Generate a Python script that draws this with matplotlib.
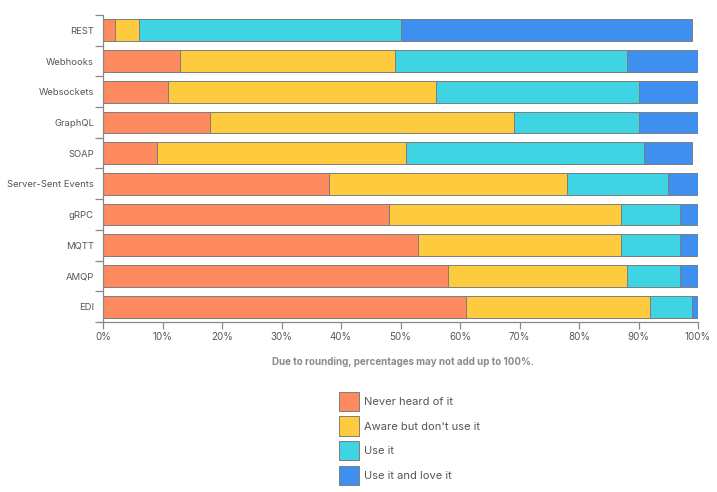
import matplotlib
matplotlib.use("Agg")
from matplotlib import pyplot as plt
from matplotlib.patches import Patch
import numpy as np

plt.rcParams['font.family'] = ['Inter', 'DejaVu Sans']

# данные опроса (в процентах)
apis = ['REST', 'Webhooks', 'Websockets', 'GraphQL', 'SOAP',
        'Server-Sent Events', 'gRPC', 'MQTT', 'AMQP', 'EDI']
never_heard = [2, 13, 11, 18, 9, 38, 48, 53, 58, 61]
aware = [4, 36, 45, 51, 42, 40, 39, 34, 30, 31]
use_it = [44, 39, 34, 21, 40, 17, 10, 10, 9, 7]
love_it = [49, 12, 10, 10, 8, 5, 3, 3, 3, 1]

labels = ['Never heard of it', "Aware but don't use it", 'Use it', 'Use it and love it']
colors = ['#fe8a5f', '#fecb3e', '#3fd4e4', '#3f8ff0']

fig = plt.figure(figsize=(7.17, 4.92), dpi=100)
ax = fig.add_axes([103 / 717, 1 - 322 / 492, 595 / 717, 307 / 492])

y = np.arange(len(apis))
left = np.zeros(len(apis))
for vals, col in zip([never_heard, aware, use_it, love_it], colors):
    ax.barh(y, vals, left=left, height=0.71, color=col,
            edgecolor='#7d7d7d', linewidth=0.7)
    left += np.array(vals)

ax.set_xlim(0, 100)
ax.set_ylim(len(apis) - 0.5, -0.5)

# деления по границам категорий, подписи по центрам
ax.set_yticks(np.arange(len(apis) + 1) - 0.5)
ax.set_yticklabels([])
ax.set_yticks(y, minor=True)
ax.set_yticklabels(apis, minor=True)
ax.tick_params(axis='y', which='minor', length=0, pad=6.5, labelsize=6.8, labelcolor='#555555')
ax.tick_params(axis='y', which='major', length=6, color='#888888', width=0.9)

ax.set_xticks(range(0, 101, 10))
ax.set_xticklabels([f'{v}%' for v in range(0, 101, 10)])
ax.tick_params(axis='x', length=5, color='#888888', width=0.9, labelsize=7,
               labelcolor='#555555', pad=2)

for s in ['top', 'right']:
    ax.spines[s].set_visible(False)
for s in ['left', 'bottom']:
    ax.spines[s].set_color('#888888')
    ax.spines[s].set_linewidth(0.9)

fig.text(403 / 717, 1 - 362 / 492, 'Due to rounding, percentages may not add up to 100%.',
         ha='center', va='center', fontsize=7, fontweight='bold', color='#8a8a8a')

handles = [Patch(facecolor=c, edgecolor='#7d7d7d', linewidth=0.7) for c in colors]
leg = fig.legend(handles, labels, loc='upper left',
                 bbox_to_anchor=(331 / 717, 1 - 384 / 492), frameon=False,
                 fontsize=8, handlelength=1.85, handleheight=2.3,
                 labelspacing=0.48, handletextpad=0.45, borderpad=0.2)
for t in leg.get_texts():
    t.set_color('#555555')

fig.savefig('out.png', dpi=100)
